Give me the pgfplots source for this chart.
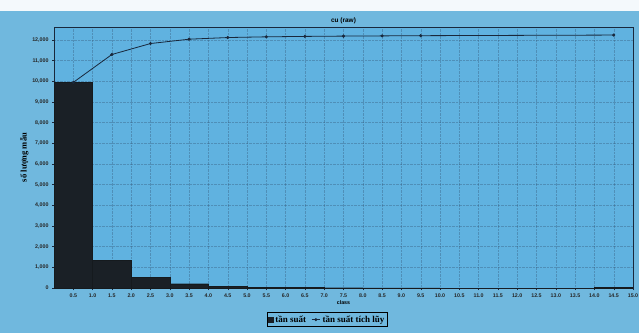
\documentclass[border=0pt]{standalone}
\usepackage{pgfplots}
\pgfplotsset{compat=1.18}
\usepackage{fontspec}
\setmainfont{Liberation Serif}
\setsansfont{Liberation Sans}
\definecolor{bgout}{RGB}{112,184,222}
\definecolor{bgin}{RGB}{96,178,224}
\definecolor{barc}{RGB}{26,32,38}
\definecolor{linec}{RGB}{25,40,60}
\definecolor{gridc}{RGB}{50,80,110}
\begin{document}
\begin{tikzpicture}[x=1pt,y=1pt]
\path[use as bounding box] (0,0) rectangle (639,333);
\clip (0,0) rectangle (639,333);
\fill[bgout] (0,0) rectangle (639,333);
\fill[white!92!bgout] (0,322) rectangle (639,333);
\begin{axis}[
  at={(54pt,45pt)}, anchor=south west,
  scale only axis, width=579pt, height=261pt,
  xmin=0, xmax=15, ymin=0, ymax=12630,
  axis background/.style={fill=bgin},
  axis line style={draw=linec, line width=0.6pt},
  xtick={0.5,1,...,15},
  ytick={0,1000,...,12000},
  scaled y ticks=false,
  tick style={draw=linec, line width=0.4pt},
  major tick length=2pt,
  tick align=outside,
  every tick label/.append style={font=\sffamily\bfseries\fontsize{5.3}{6}\selectfont, text=black!85},
  xticklabel style={/pgf/number format/fixed, /pgf/number format/fixed zerofill, /pgf/number format/precision=1},
  yticklabel style={/pgf/number format/1000 sep={,}, /pgf/number format/fixed},
  /pgf/number format/assume math mode=true,
  xtick pos=bottom, ytick pos=left,
  grid=major,
  major grid style={draw=gridc, densely dotted, line width=0.4pt, opacity=0.35},
  title={cu (raw)},
  title style={font=\sffamily\bfseries\fontsize{6.5}{7}\selectfont, yshift=-6pt},
  xlabel={class},
  xlabel style={font=\sffamily\bfseries\fontsize{5.3}{6}\selectfont, yshift=4pt},
  ylabel={số lượng mẫu},
  ylabel style={font=\bfseries\fontsize{8.5}{9}\selectfont, yshift=-3pt},
  legend style={at={(0.472,-0.092)}, anchor=north, legend columns=2,
    fill=none, draw=black, line width=0.9pt,
    font=\bfseries\fontsize{9}{10}\selectfont,
    inner sep=1.2pt, /tikz/every even column/.append style={column sep=3pt}},
  legend cell align=left,
]
\addplot[ybar interval, fill=barc, draw=barc!80!black, line width=0.3pt,
  legend image code/.code={\fill[barc] (0cm,-0.09cm) rectangle (0.17cm,0.09cm);}]
coordinates {(0,9950) (1,1350) (2,530) (3,210) (4,80) (5,35) (6,20) (7,15) (8,10) (9,10) (10,0) (11,0) (12,0) (13,0) (14,20) (15,20)};
\addlegendentry{tần suất}
\addplot[color=linec, line width=0.8pt, mark=*, mark size=1.1pt,
  legend image code/.code={\draw[mark repeat=2,mark phase=2] plot coordinates {(0cm,0cm) (0.15cm,0cm) (0.3cm,0cm)};}]
coordinates {(0.5,9950) (1.5,11300) (2.5,11830) (3.5,12040) (4.5,12120) (5.5,12155) (6.5,12175) (7.5,12190) (8.5,12200) (9.5,12210) (14.5,12240)};
\addlegendentry{tần suất tích lũy}
\end{axis}
\end{tikzpicture}
\end{document}
